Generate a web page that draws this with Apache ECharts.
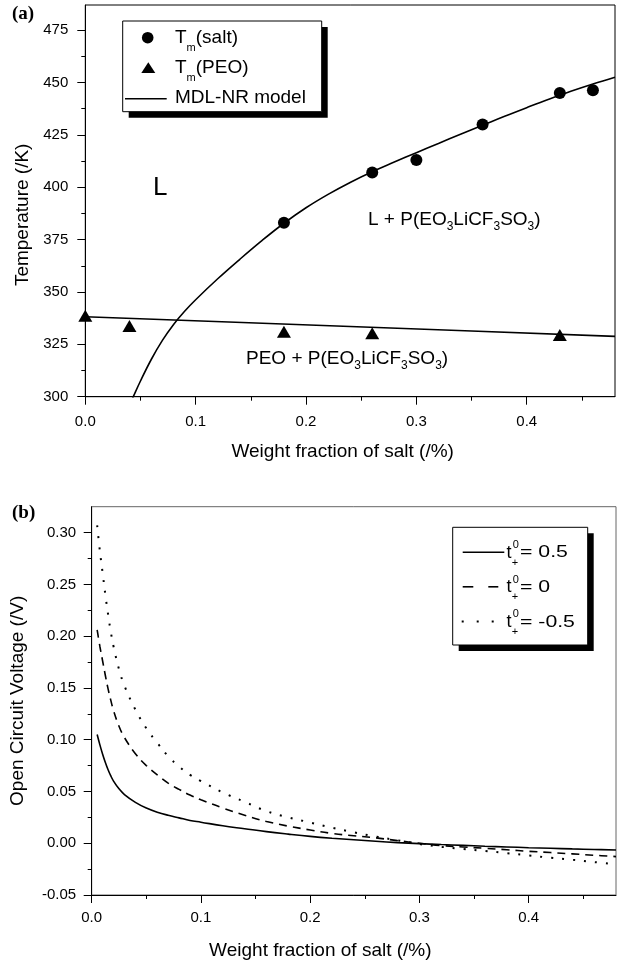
<!DOCTYPE html>
<html><head><meta charset="utf-8">
<script src="https://cdn.jsdelivr.net/npm/echarts@6.0.0/dist/echarts.min.js"></script>
<style>html,body{margin:0;padding:0;background:#fff}#c{width:622px;height:967px}</style>
</head><body><div id="c"></div>
<script>
// ---------- Panel (a) data ----------
const saltX = [0.18, 0.26, 0.30, 0.36, 0.43, 0.46];
const saltT = [383, 407, 413, 430, 445, 446.3];
const peoX = [0, 0.04, 0.18, 0.26, 0.43];
const peoT = [338.7, 333.8, 331, 330.3, 329.5];
const modelSaltX = [0.040, 0.0435, 0.05, 0.06, 0.07, 0.08, 0.09, 0.10, 0.12, 0.14, 0.16, 0.18, 0.20, 0.22, 0.24, 0.26, 0.28, 0.30, 0.32, 0.34, 0.36, 0.38, 0.40, 0.42, 0.44, 0.46, 0.48];
const modelSaltT = [295.8, 300, 307.5, 318, 327, 334.5, 340.8, 346.3, 356.3, 365.6, 374.5, 382.8, 390.2, 396.6, 402.3, 407.4, 412, 416.5, 420.9, 425.3, 429.6, 433.9, 438, 442, 445.8, 449.3, 452.5];
const modelPeoX = [0, 0.24, 0.48];
const modelPeoT = [338.2, 333.5, 328.8];
const xTicksA = [0, 0.1, 0.2, 0.3, 0.4];
const xMinorA = [0.05, 0.15, 0.25, 0.35, 0.45];
const yTicksA = [300, 325, 350, 375, 400, 425, 450, 475];
const yMinorA = [312.5, 337.5, 362.5, 387.5, 412.5, 437.5, 462.5];

// ---------- Panel (b) data ----------
const ocvX = [0.005, 0.0075, 0.01, 0.0125, 0.015, 0.0175, 0.02, 0.025, 0.03, 0.04, 0.05, 0.06, 0.07, 0.08, 0.09, 0.10, 0.12, 0.14, 0.16, 0.18, 0.20, 0.22, 0.24, 0.26, 0.28, 0.30, 0.32, 0.34, 0.36, 0.38, 0.40, 0.42, 0.44, 0.46, 0.48];
const ocvT05 = [0.105, 0.095, 0.086, 0.078, 0.071, 0.065, 0.060, 0.0525, 0.047, 0.0395, 0.034, 0.030, 0.027, 0.0245, 0.022, 0.0203, 0.0168, 0.014, 0.0112, 0.0088, 0.0066, 0.0048, 0.0033, 0.0019, 0.0006, -0.0004, -0.0013, -0.0021, -0.0029, -0.0036, -0.0043, -0.0049, -0.0055, -0.0060, -0.0065];
const ocvT0 = [0.206, 0.190, 0.176, 0.162, 0.149, 0.138, 0.128, 0.113, 0.102, 0.0865, 0.075, 0.066, 0.058, 0.052, 0.0465, 0.042, 0.034, 0.027, 0.021, 0.0165, 0.0128, 0.0095, 0.0072, 0.0052, 0.0025, 0.0000, -0.0022, -0.0036, -0.0049, -0.0063, -0.0078, -0.0090, -0.0103, -0.0116, -0.0129];
const ocvTm05 = [0.307, 0.282, 0.261, 0.240, 0.221, 0.204, 0.190, 0.168, 0.152, 0.129, 0.111, 0.097, 0.084, 0.074, 0.066, 0.060, 0.049, 0.040, 0.031, 0.025, 0.020, 0.015, 0.0105, 0.0065, 0.0028, -0.0008, -0.0035, -0.0055, -0.0075, -0.0096, -0.0118, -0.014, -0.016, -0.0182, -0.0205];
const xTicksB = [0, 0.1, 0.2, 0.3, 0.4];
const xMinorB = [0.05, 0.15, 0.25, 0.35, 0.45];
const yTicksB = [-0.05, 0, 0.05, 0.10, 0.15, 0.20, 0.25, 0.30];
const yMinorB = [-0.025, 0.025, 0.075, 0.125, 0.175, 0.225, 0.275];

const zip = (xs, ys) => xs.map((x, i) => [x, ys[i]]);
const FONT = '"Liberation Sans", Arial, Helvetica, sans-serif';
const SERIF = '"Liberation Serif", "Times New Roman", serif';

function mainAxis(gridIndex, pos, min, max, ticks, fmt, margin, name, nameGap, namePad) {
  return {
    gridIndex, type: 'value', position: pos, min, max,
    axisLine: { show: true, onZero: false, lineStyle: { color: '#000', width: 1 } },
    axisTick: { show: true, inside: false, length: 8, customValues: ticks, lineStyle: { color: '#000', width: 1 } },
    axisLabel: { show: true, customValues: ticks, formatter: fmt, fontSize: 15, fontFamily: FONT, color: '#000', margin },
    splitLine: { show: false },
    name, nameLocation: 'middle', nameGap,
    nameRotate: pos === 'left' ? 90 : 0,
    nameTextStyle: { fontSize: 19, fontFamily: FONT, color: '#000', padding: namePad }
  };
}
function minorAxis(gridIndex, pos, min, max, ticks) {
  return {
    gridIndex, type: 'value', position: pos, min, max,
    axisLine: { show: false, onZero: false },
    axisTick: { show: true, inside: false, length: 4, customValues: ticks, lineStyle: { color: '#000', width: 1 } },
    axisLabel: { show: false },
    splitLine: { show: false }
  };
}

const f1 = v => v.toFixed(1);
const f2 = v => v.toFixed(2);

const option = {
  backgroundColor: '#fff',
  animation: false,
  grid: [
    { left: 85.3, top: 5, right: 7, bottom: 570.3, show: true, borderColor: '#000', borderWidth: 1, backgroundColor: 'transparent' },
    { left: 91.7, top: 506.7, right: 6, bottom: 72, show: true, borderColor: '#666', borderWidth: 1, backgroundColor: 'transparent' }
  ],
  xAxis: [
    mainAxis(0, 'bottom', 0, 0.48, xTicksA, f1, 18, 'Weight fraction of salt (/%)', 46, [0, 15, 0, 0]),
    minorAxis(0, 'bottom', 0, 0.48, xMinorA),
    mainAxis(1, 'bottom', 0, 0.48, xTicksB, f1, 15, 'Weight fraction of salt (/%)', 46, [0, 67, 0, 0]),
    minorAxis(1, 'bottom', 0, 0.48, xMinorB)
  ],
  yAxis: [
    mainAxis(0, 'left', 300, 487, yTicksA, v => String(Math.round(v)), 17, 'Temperature (/K)', 52, [0, 28, 0, 0]),
    minorAxis(0, 'left', 300, 487, yMinorA),
    mainAxis(1, 'left', -0.05, 0.325, yTicksB, f2, 15.5, 'Open Circuit Voltage (/V)', 64, [0, 0, 0, 0]),
    minorAxis(1, 'left', -0.05, 0.325, yMinorB)
  ],
  series: [
    { name: 'MDL-NR model', type: 'line', xAxisIndex: 0, yAxisIndex: 0, data: zip(modelSaltX, modelSaltT),
      smooth: 0.4, showSymbol: false, clip: true, lineStyle: { color: '#000', width: 1.6 }, z: 2 },
    { name: 'MDL-NR model (PEO)', type: 'line', xAxisIndex: 0, yAxisIndex: 0, data: zip(modelPeoX, modelPeoT),
      smooth: 0.3, showSymbol: false, clip: true, lineStyle: { color: '#000', width: 1.6 }, z: 2 },
    { name: 'Tm(salt)', type: 'scatter', xAxisIndex: 0, yAxisIndex: 0, data: zip(saltX, saltT),
      symbol: 'circle', symbolSize: 12, itemStyle: { color: '#000', opacity: 1 }, z: 3 },
    { name: 'Tm(PEO)', type: 'scatter', xAxisIndex: 0, yAxisIndex: 0, data: zip(peoX, peoT),
      symbol: 'triangle', symbolSize: [14, 12], itemStyle: { color: '#000', opacity: 1 }, z: 3 },
    { name: 't+0 = 0.5', type: 'line', xAxisIndex: 2, yAxisIndex: 2, data: zip(ocvX, ocvT05),
      smooth: 0.4, showSymbol: false, clip: true, lineStyle: { color: '#000', width: 1.6 } },
    { name: 't+0 = 0', type: 'line', xAxisIndex: 2, yAxisIndex: 2, data: zip(ocvX, ocvT0),
      smooth: 0.4, showSymbol: false, clip: true, lineStyle: { color: '#000', width: 1.6, type: [8, 6] } },
    { name: 't+0 = -0.5', type: 'line', xAxisIndex: 2, yAxisIndex: 2, data: zip(ocvX, ocvTm05),
      smooth: 0.4, showSymbol: false, clip: true, lineStyle: { color: '#000', width: 2, type: [2, 9] } }
  ],
  graphic: []
};

const G = option.graphic;
function txt(x, y, text, size, extra) {
  const o = Object.assign({ type: 'text', x, y, z: 100, style: Object.assign({
    text, fontSize: size, fontFamily: FONT, fill: '#000',
    align: 'left', verticalAlign: 'middle', textAlign: 'left', textVerticalAlign: 'middle'
  }, (extra && extra.style) || {}) }, extra ? { scaleX: extra.scaleX || 1 } : {});
  G.push(o);
}
function richTxt(x, y, text, size, lh, subSize) {
  G.push({ type: 'text', x, y, z: 100, style: {
    text, fontFamily: FONT, fill: '#000', fontSize: size,
    align: 'left', verticalAlign: 'middle', textAlign: 'left', textVerticalAlign: 'middle',
    rich: {
      n: { fontSize: size, lineHeight: lh, fontFamily: FONT, fill: '#000', verticalAlign: 'middle' },
      s: { fontSize: subSize, lineHeight: subSize, fontFamily: FONT, fill: '#000', verticalAlign: 'bottom' }
    }
  } });
}

// panel tags
G.push({ type: 'text', x: 12, y: 14, z: 100, style: { text: '(a)', font: 'bold 19px ' + SERIF, fill: '#000', align: 'left', verticalAlign: 'middle', textAlign: 'left', textVerticalAlign: 'middle' } });
G.push({ type: 'text', x: 12, y: 513, z: 100, style: { text: '(b)', font: 'bold 19px ' + SERIF, fill: '#000', align: 'left', verticalAlign: 'middle', textAlign: 'left', textVerticalAlign: 'middle' } });

// panel (a) annotations
txt(153, 188, 'L', 26);
richTxt(368, 220, '{n|L + P(EO}{s|3}{n|LiCF}{s|3}{n|SO}{s|3}{n|)}', 19, 26, 12);
richTxt(246, 358.5, '{n|PEO + P(EO}{s|3}{n|LiCF}{s|3}{n|SO}{s|3}{n|)}', 19, 26, 12);

// legend (a)
G.push({ type: 'rect', z: 90, shape: { x: 128.7, y: 27, width: 199, height: 90.7 }, style: { fill: '#000' } });
G.push({ type: 'rect', z: 91, shape: { x: 122.7, y: 21, width: 199, height: 90.7 }, style: { fill: '#fff', stroke: '#000', lineWidth: 1 } });
G.push({ type: 'circle', z: 95, shape: { cx: 147.7, cy: 37.7, r: 5.8 }, style: { fill: '#000' } });
G.push({ type: 'polygon', z: 95, shape: { points: [[148.3, 62.3], [155.3, 73], [141.3, 73]] }, style: { fill: '#000' } });
G.push({ type: 'line', z: 95, shape: { x1: 125, y1: 98.7, x2: 166.7, y2: 98.7 }, style: { stroke: '#000', lineWidth: 1.6 } });
richTxt(175, 38, '{n|T}{s|m}{n|(salt)}', 19, 30, 11);
richTxt(175, 68, '{n|T}{s|m}{n|(PEO)}', 19, 30, 11);
txt(175, 97.5, 'MDL-NR model', 19);

// legend (b)
G.push({ type: 'rect', z: 90, shape: { x: 458.7, y: 533.3, width: 135, height: 117.7 }, style: { fill: '#000' } });
G.push({ type: 'rect', z: 91, shape: { x: 452.7, y: 527.3, width: 135, height: 117.7 }, style: { fill: '#fff', stroke: '#000', lineWidth: 1 } });
G.push({ type: 'line', z: 95, shape: { x1: 462.7, y1: 552.3, x2: 504.3, y2: 552.3 }, style: { stroke: '#000', lineWidth: 1.6 } });
G.push({ type: 'line', z: 95, shape: { x1: 462.7, y1: 586.8, x2: 473.3, y2: 586.8 }, style: { stroke: '#000', lineWidth: 1.6 } });
G.push({ type: 'line', z: 95, shape: { x1: 488.3, y1: 586.8, x2: 498.3, y2: 586.8 }, style: { stroke: '#000', lineWidth: 1.6 } });
[462.7, 477.7, 492.7].forEach(px => G.push({ type: 'rect', z: 95, shape: { x: px - 1, y: 620.5, width: 2, height: 2 }, style: { fill: '#000' } }));
const legB = ['= 0.5', '= 0', '= -0.5'];
legB.forEach((s, i) => {
  const yy = 552.7 + i * 34.6;
  txt(506.5, yy, 't', 18);
  txt(512.8, yy - 7.5, '0', 11);
  txt(511.8, yy + 10, '+', 11);
  txt(520, yy, s, 17, { scaleX: 1.25 });
});

const chart = echarts.init(document.getElementById('c'), null, { renderer: 'canvas' });
chart.setOption(option);
</script>
</body></html>
